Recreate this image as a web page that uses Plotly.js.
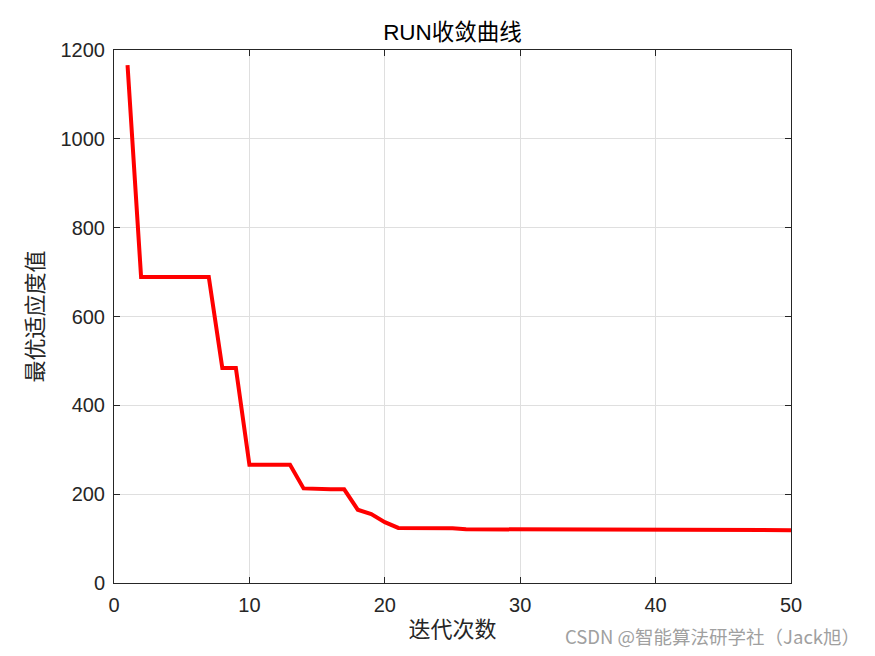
<!DOCTYPE html>
<html>
<head>
<meta charset="utf-8">
<script src="https://cdn.plot.ly/plotly-3.0.1.min.js"></script>
<style>html,body{margin:0;padding:0;background:#fff;}#chart{width:875px;height:656px;}</style>
</head>
<body>
<div id="chart"></div>
<script>
const iterations = [1,2,3,4,5,6,7,8,9,10,11,12,13,14,15,16,17,18,19,20,21,22,23,24,25,26,27,28,29,30,31,32,33,34,35,36,37,38,39,40,41,42,43,44,45,46,47,48,49,50];
const bestFitness = [1166,689,689,689,689,689,689,484,484,266,266,266,266,213,211,211,211,165,155,137,124,124,124,123,123,121,121,120,120,120,120,120,119,119,119,119,119,119,119,119,119,119,119,119,119,119,119,119,119,119];
const xTicks = [0,10,20,30,40,50];
const yTicks = [0,200,400,600,800,1000,1200];

const axisCommon = {
  showgrid: true, gridcolor: '#dfdfdf', gridwidth: 1,
  showline: true, linecolor: '#262626', linewidth: 1, mirror: 'allticks',
  ticks: 'inside', ticklen: 6, tickcolor: '#262626',
  zeroline: false,
  tickfont: {family: 'Liberation Sans, Arial, sans-serif', size: 20, color: '#262626'}
};

Plotly.newPlot('chart', [{
  x: iterations, y: bestFitness, type: 'scatter', mode: 'lines',
  line: {color: '#ff0000', width: 4}
}], {
  width: 875, height: 656,
  margin: {l: 114, r: 84, t: 50, b: 73},
  paper_bgcolor: '#ffffff', plot_bgcolor: '#ffffff',
  showlegend: false,
  title: {text: 'RUN收敛曲线', x: 0.5, xref: 'paper', xanchor: 'center', y: 1 - 32/656, yanchor: 'middle',
    font: {family: 'Liberation Sans, Noto Sans CJK SC, sans-serif', size: 22.5, color: '#000'}},
  xaxis: Object.assign({}, axisCommon, {range: [0, 50], tickvals: xTicks, ticklabelstandoff: 4,
    title: {text: '迭代次数', standoff: 6, font: {family: 'Noto Sans CJK SC, sans-serif', size: 22, color: '#262626'}}}),
  yaxis: Object.assign({}, axisCommon, {range: [0, 1200], tickvals: yTicks, ticklabelstandoff: 4,
    title: {text: '最优适应度值', standoff: 10, font: {family: 'Noto Sans CJK SC, sans-serif', size: 22, color: '#262626'}}}),
  annotations: [{
    text: 'CSDN @智能算法研学社（Jack旭）', xref: 'paper', yref: 'paper',
    x: (862 - 114) / 677, y: -(636 - 583) / 533, xanchor: 'right', yanchor: 'middle', showarrow: false,
    font: {family: 'Noto Sans CJK SC, sans-serif', size: 18.5, color: '#a0a0a0'}
  }]
}, {displayModeBar: false, staticPlot: true});
</script>
</body>
</html>
